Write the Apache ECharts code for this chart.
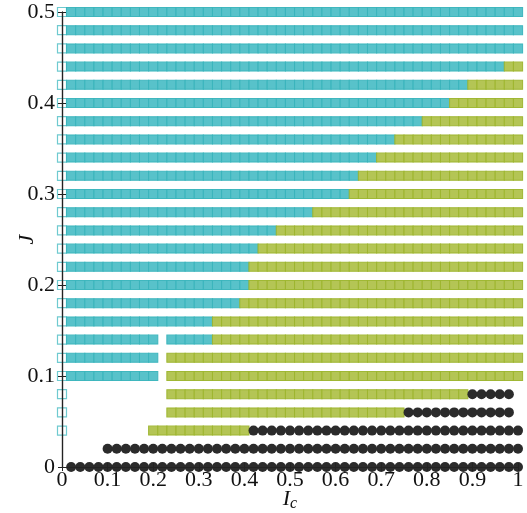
<!DOCTYPE html>
<html>
<head>
<meta charset="utf-8">
<script src="https://cdn.jsdelivr.net/npm/echarts@6/dist/echarts.min.js"></script>
<style>
  html, body { margin: 0; padding: 0; background: #fff; }
  #chart { width: 527px; height: 513px; }
</style>
</head>
<body>
<div id="chart"></div>
<script>
// Coupling J for each row of the phase diagram
const rowsJ = [0, 0.02, 0.04, 0.06, 0.08, 0.10, 0.12, 0.14, 0.16, 0.18, 0.20, 0.22, 0.24,
  0.26, 0.28, 0.30, 0.32, 0.34, 0.36, 0.38, 0.40, 0.42, 0.44, 0.46, 0.48, 0.50];

// Runs of I_c (inclusive, on a 0.02 grid) for each phase, one entry per row
const cyanRuns = [
  [], [], [], [], [],
  [[0.02, 0.20]], [[0.02, 0.20]], [[0.02, 0.20], [0.24, 0.32]], [[0.02, 0.32]],
  [[0.02, 0.38]], [[0.02, 0.40]], [[0.02, 0.40]], [[0.02, 0.42]], [[0.02, 0.46]],
  [[0.02, 0.54]], [[0.02, 0.62]], [[0.02, 0.64]], [[0.02, 0.68]], [[0.02, 0.72]],
  [[0.02, 0.78]], [[0.02, 0.84]], [[0.02, 0.88]], [[0.02, 0.96]],
  [[0.02, 1.00]], [[0.02, 1.00]], [[0.02, 1.00]]
];
const greenRuns = [
  [], [], [[0.20, 0.40]], [[0.24, 0.74]], [[0.24, 0.88]],
  [[0.24, 1.00]], [[0.24, 1.00]], [[0.34, 1.00]], [[0.34, 1.00]],
  [[0.40, 1.00]], [[0.42, 1.00]], [[0.42, 1.00]], [[0.44, 1.00]], [[0.48, 1.00]],
  [[0.56, 1.00]], [[0.64, 1.00]], [[0.66, 1.00]], [[0.70, 1.00]], [[0.74, 1.00]],
  [[0.80, 1.00]], [[0.86, 1.00]], [[0.90, 1.00]], [[0.98, 1.00]],
  [], [], []
];
const blackRuns = [
  [[0.02, 1.00]], [[0.10, 1.00]], [[0.42, 1.00]], [[0.76, 0.98]], [[0.90, 0.98]],
  [], [], [], [], [], [], [], [], [], [], [], [], [], [], [], [], [], [], [], [], []
];
const hollowRuns = [
  [], [], [[0, 0]], [[0, 0]], [[0, 0]], [[0, 0]], [[0, 0]], [[0, 0]], [[0, 0]],
  [[0, 0]], [[0, 0]], [[0, 0]], [[0, 0]], [[0, 0]], [[0, 0]], [[0, 0]], [[0, 0]],
  [[0, 0]], [[0, 0]], [[0, 0]], [[0, 0]], [[0, 0]], [[0, 0]], [[0, 0]], [[0, 0]], [[0, 0]]
];

const xTicks = [0, 0.1, 0.2, 0.3, 0.4, 0.5, 0.6, 0.7, 0.8, 0.9, 1];
const yTicks = [0, 0.1, 0.2, 0.3, 0.4, 0.5];

// Expand runs into the grid points they cover
function pointsFrom(runs) {
  const pts = [];
  runs.forEach((row, i) => {
    row.forEach(([a, b]) => {
      for (let k = Math.round(a * 50); k <= Math.round(b * 50); k++) {
        pts.push([k / 50, rowsJ[i]]);
      }
    });
  });
  return pts;
}

const FONT = 'Liberation Serif';
const fmt = v => (Math.abs(v) < 1e-9 ? '0' : String(+v.toFixed(2)));

const chart = echarts.init(document.getElementById('chart'), null, { renderer: 'canvas' });

const axisLine = { show: true, lineStyle: { color: '#222', width: 1.2 } };
const tick = { show: true, inside: true, length: 4, lineStyle: { color: '#222', width: 1 } };

chart.setOption({
  animation: false,
  backgroundColor: '#fff',
  grid: { left: 62, right: 9, top: 12, bottom: 46, containLabel: false, outerBoundsMode: 'none' },
  xAxis: [
    {
      type: 'value', min: 0, max: 1, interval: 0.1, position: 'bottom', z: 10,
      axisLine, axisTick: tick, splitLine: { show: false },
      axisLabel: {
        formatter: v => (xTicks.some(t => Math.abs(t - v) < 1e-9) ? fmt(v) : ''),
        fontFamily: FONT, fontSize: 22, color: '#111', margin: 2
      },
      name: '{i|I}{s|c}', nameLocation: 'middle', nameGap: 19, nameMoveOverlap: false,
      nameTextStyle: {
        verticalAlign: 'top',
        rich: {
          i: { fontFamily: FONT, fontStyle: 'italic', fontSize: 22, color: '#111' },
          s: { fontFamily: FONT, fontStyle: 'italic', fontSize: 16, color: '#111', verticalAlign: 'bottom', padding: [10, 0, 0, 0] }
        }
      }
    },
    {
      type: 'value', min: 0, max: 1, interval: 0.1, position: 'top', z: 10,
      axisLine, axisTick: tick, axisLabel: { show: false }, splitLine: { show: false }
    }
  ],
  yAxis: [
    {
      type: 'value', min: 0, max: 0.5, interval: 0.1, position: 'left', z: 10,
      axisLine, axisTick: tick, splitLine: { show: false },
      axisLabel: {
        formatter: v => (yTicks.some(t => Math.abs(t - v) < 1e-9) ? fmt(v) : ''),
        fontFamily: FONT, fontSize: 22, color: '#111', margin: 7
      },
      name: 'J', nameLocation: 'middle', nameGap: 24, nameRotate: 90, nameMoveOverlap: false,
      nameTextStyle: { fontFamily: FONT, fontStyle: 'italic', fontSize: 22, color: '#111' }
    },
    {
      type: 'value', min: 0, max: 0.5, interval: 0.1, position: 'right', z: 10,
      axisLine, axisTick: tick, axisLabel: { show: false }, splitLine: { show: false }
    }
  ],
  series: [
    {
      name: 'hollow', type: 'scatter', data: pointsFrom(hollowRuns),
      symbol: 'rect', symbolSize: [9, 9], z: 2,
      itemStyle: { color: '#fff', borderColor: '#6fcad0', borderWidth: 1.2, opacity: 1 }
    },
    {
      name: 'cyan', type: 'scatter', data: pointsFrom(cyanRuns),
      symbol: 'rect', symbolSize: [9.2, 9], z: 2,
      itemStyle: { color: '#4fbfc7', borderColor: '#3ab4bc', borderWidth: 1, opacity: 0.95 }
    },
    {
      name: 'green', type: 'scatter', data: pointsFrom(greenRuns),
      symbol: 'rect', symbolSize: [9.2, 9], z: 2,
      itemStyle: { color: '#b0c24c', borderColor: '#9db52e', borderWidth: 1, opacity: 0.95 }
    },
    {
      name: 'black', type: 'scatter', data: pointsFrom(blackRuns),
      symbol: 'circle', symbolSize: 10, z: 3,
      itemStyle: { color: '#2b2b2b', opacity: 1 }
    }
  ]
});
</script>
</body>
</html>
